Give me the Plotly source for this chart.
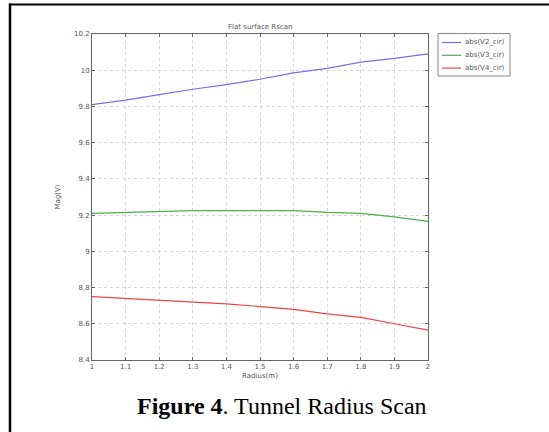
import plotly.graph_objects as go

radius = [1.0, 1.1, 1.2, 1.3, 1.4, 1.5, 1.6, 1.7, 1.8, 1.9, 2.0]
v2 = [9.81, 9.835, 9.865, 9.895, 9.92, 9.95, 9.985, 10.01, 10.045, 10.065, 10.09]
v3 = [9.21, 9.215, 9.22, 9.225, 9.225, 9.225, 9.225, 9.215, 9.21, 9.19, 9.165]
v4 = [8.75, 8.74, 8.73, 8.72, 8.71, 8.695, 8.68, 8.655, 8.635, 8.6, 8.565]
names = ["abs(V2_cir)", "abs(V3_cir)", "abs(V4_cir)"]
colors = ["#7070ee", "#4caf50", "#ee4444"]

W, H = 549, 432
L, R, T, B = 92, 428, 34, 360

def px(x):
    return (x - L) / (R - L)

def py(y):
    return (B - y) / (B - T)

fig = go.Figure()
for ys, n, c in zip([v2, v3, v4], names, colors):
    fig.add_trace(go.Scatter(x=radius, y=ys, mode="lines", name=n,
                             line=dict(color=c, width=1.2), showlegend=False))

axis_common = dict(showgrid=True, gridcolor="#d4d4d4", griddash="dot", gridwidth=1,
                   showline=True, linecolor="#666666", linewidth=1, mirror="ticks",
                   ticks="inside", ticklen=3, tickcolor="#666666",
                   tickfont=dict(family="DejaVu Sans", size=7, color="#555555"),
                   zeroline=False)

fig.update_layout(
    width=W, height=H,
    margin=dict(l=L, r=W - R, t=T, b=H - B),
    paper_bgcolor="white", plot_bgcolor="white",
    showlegend=False,
    xaxis=dict(range=[1, 2], tickvals=radius,
               ticktext=["1", "1.1", "1.2", "1.3", "1.4", "1.5", "1.6", "1.7", "1.8", "1.9", "2"],
               title=dict(text="Radius(m)", font=dict(family="DejaVu Sans", size=7, color="#555555"),
                          standoff=2),
               **axis_common),
    yaxis=dict(range=[8.4, 10.2], tickvals=[8.4, 8.6, 8.8, 9.0, 9.2, 9.4, 9.6, 9.8, 10.0, 10.2],
               ticktext=["8.4", "8.6", "8.8", "9", "9.2", "9.4", "9.6", "9.8", "10", "10.2"],
               title=dict(text="Mag(V)", font=dict(family="DejaVu Sans", size=7, color="#555555"),
                          standoff=12),
               **axis_common),
)

# manual compact legend
fig.add_shape(type="rect", xref="paper", yref="paper",
              x0=px(438), x1=px(510), y0=py(33.5), y1=py(76),
              line=dict(color="#888888", width=1), fillcolor="white")
for i, (n, c) in enumerate(zip(names, colors)):
    yy = 42.5 + 12.8 * i
    fig.add_shape(type="line", xref="paper", yref="paper",
                  x0=px(442), x1=px(461), y0=py(yy), y1=py(yy),
                  line=dict(color=c, width=1.2))
    fig.add_annotation(text=n, xref="paper", yref="paper",
                       x=px(463), y=py(yy), showarrow=False, xanchor="left", yanchor="middle",
                       font=dict(family="DejaVu Sans", size=7, color="#555555"))

fig.add_annotation(text="Flat surface Rscan", xref="paper", yref="paper",
                   x=0.5, y=py(27), showarrow=False, xanchor="center", yanchor="middle",
                   font=dict(family="DejaVu Sans", size=7, color="#555555"))

fig.add_annotation(text="<b>Figure 4</b>. Tunnel Radius Scan", xref="paper", yref="paper",
                   x=px(282), y=py(406), showarrow=False, xanchor="center", yanchor="middle",
                   font=dict(family="Liberation Serif", size=24, color="black"))

# outer frame lines (top and left)
fig.add_shape(type="line", xref="paper", yref="paper",
              x0=px(9), x1=px(W), y0=py(4.5), y1=py(4.5),
              line=dict(color="black", width=2))
fig.add_shape(type="line", xref="paper", yref="paper",
              x0=px(10), x1=px(10), y0=py(3.5), y1=py(H),
              line=dict(color="black", width=2.5))

fig.write_html("out.html", config={"displayModeBar": False},
               post_script="document.body.style.margin='0';document.body.style.overflow='hidden';")
